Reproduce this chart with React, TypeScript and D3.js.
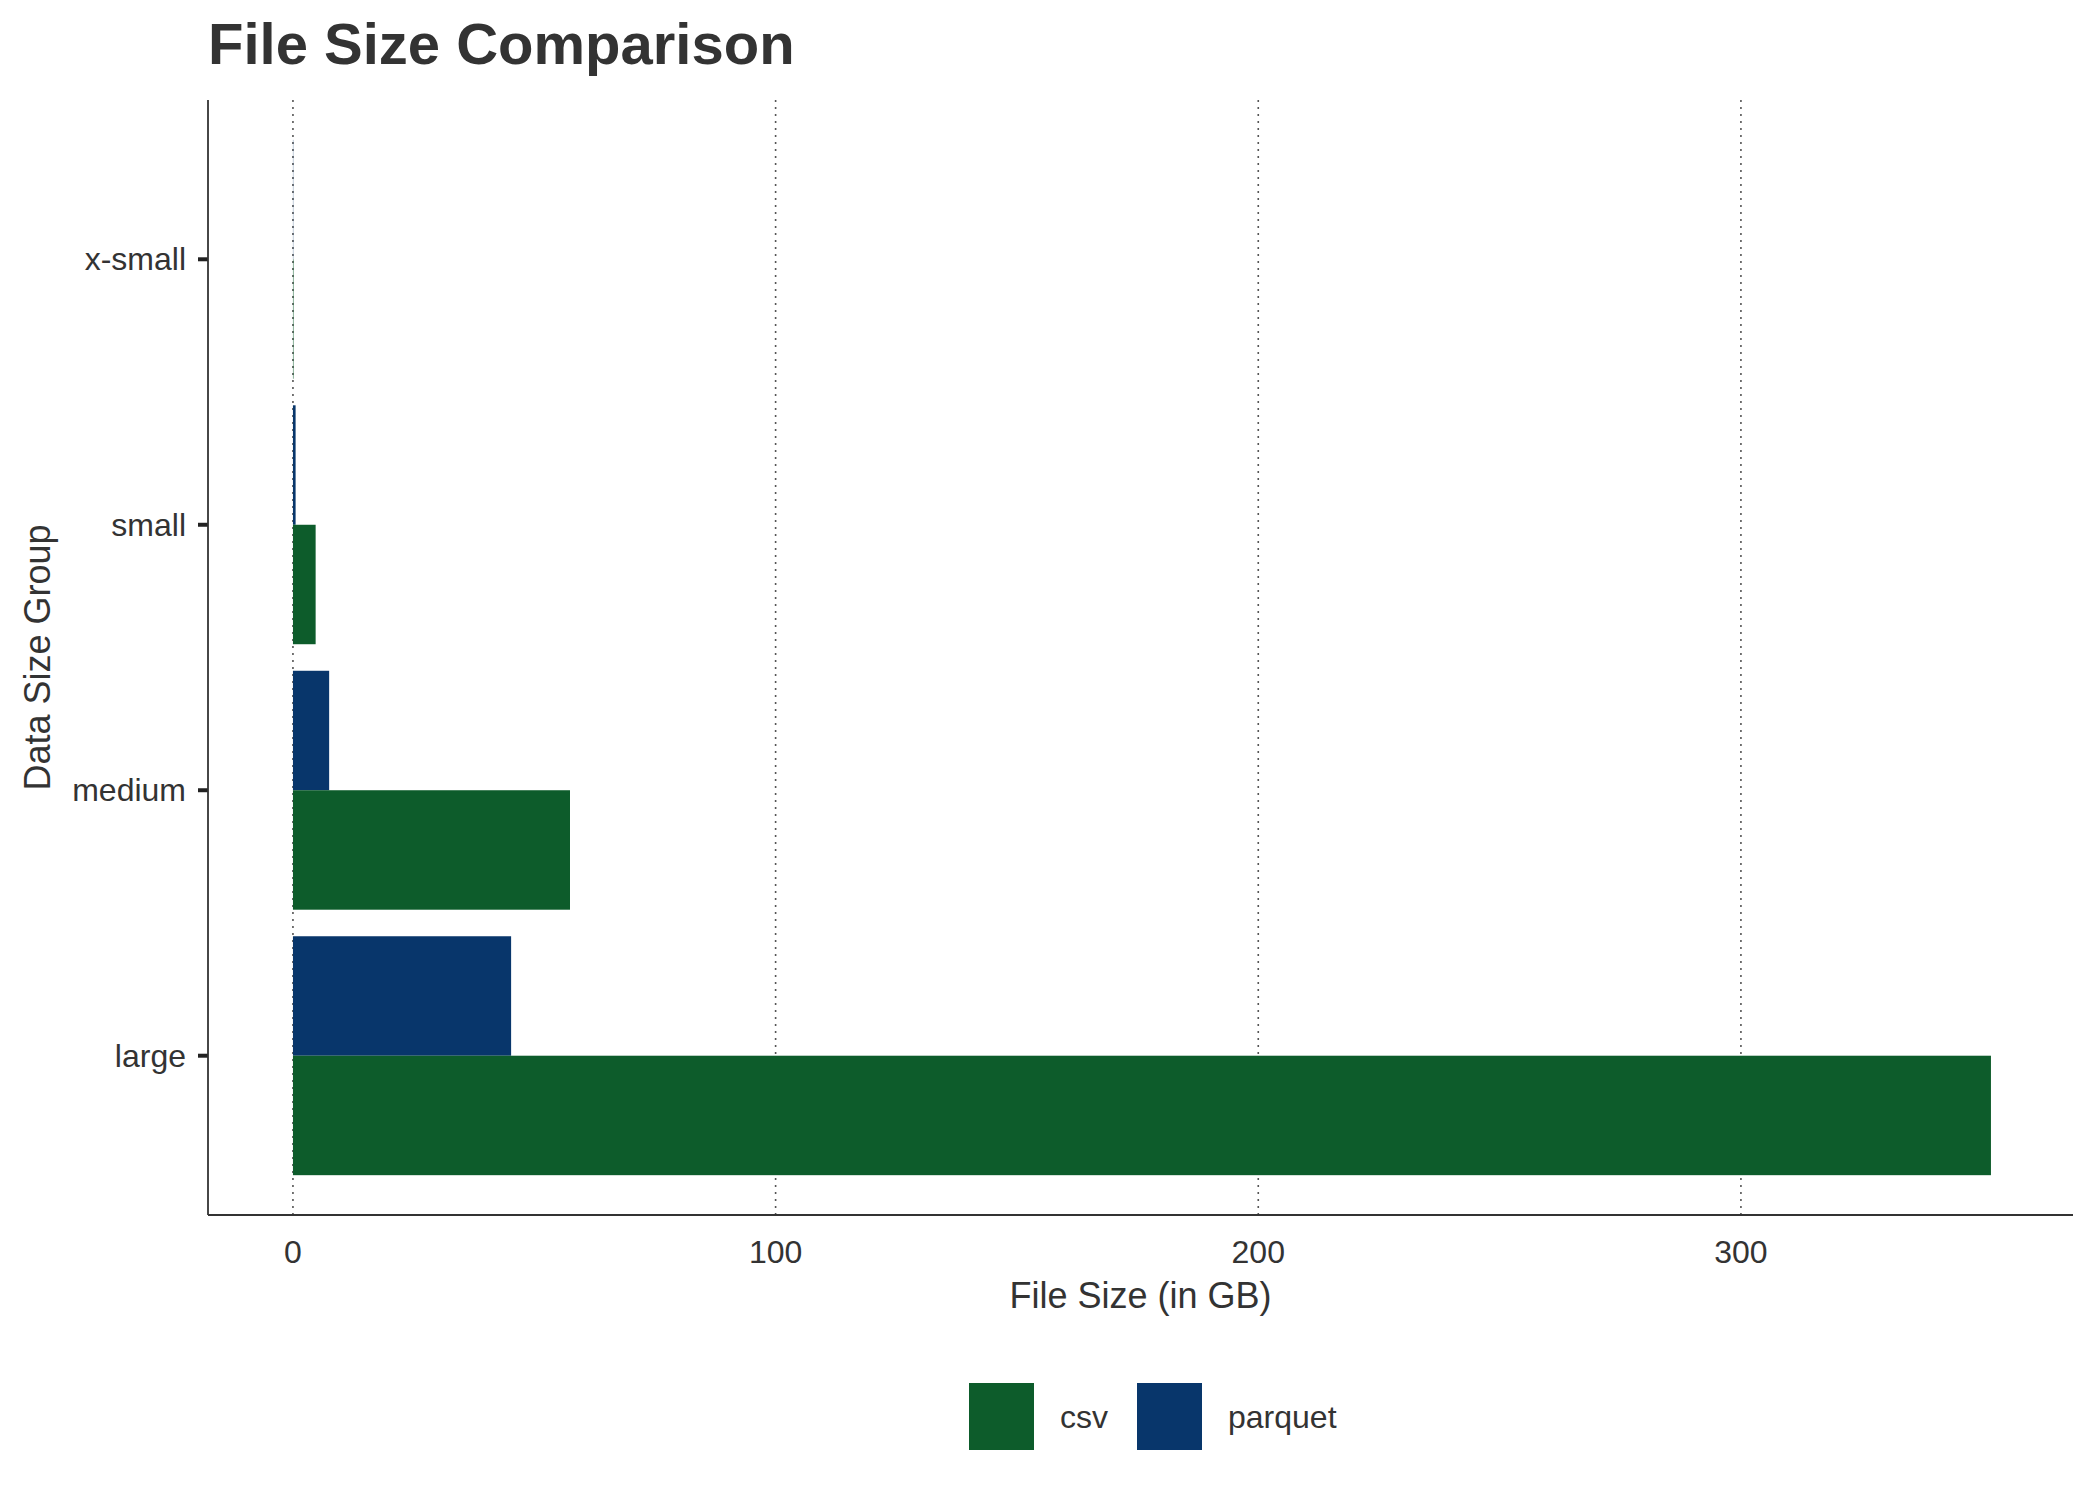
import React from "react";
import * as d3 from "d3";

const categories = ["x-small", "small", "medium", "large"];
const seriesNames = ["csv", "parquet"];
const csvValues = [0.1, 4.7, 57.4, 351.8];
const parquetValues = [0.05, 0.55, 7.5, 45.2];
const xTicks = [0, 100, 200, 300];
const colors: Record<string, string> = { csv: "#0d5c2b", parquet: "#08366b" };

export default function App() {
  const W = 2100, H = 1500;
  const left = 208, right = 2073, top = 100, bottom = 1215;
  const x = d3.scaleLinear().domain([-17.6, 368.8]).range([left, right]);
  const y = d3.scalePoint().domain(categories).range([top, bottom]).padding(0.6);
  const step = y.step();
  const bh = step * 0.45;
  const font = "Arial, 'Liberation Sans', Helvetica, sans-serif";
  const text = "#333333";
  return (
    <svg width={W} height={H} style={{ position: "absolute", left: 0, top: 0, background: "white" }} fontFamily={font}>
      <text x={208} y={64} fontSize={58} fontWeight="bold" fill={text}>File Size Comparison</text>
      {xTicks.map(t => (
        <line key={t} x1={x(t)} x2={x(t)} y1={top} y2={bottom} stroke="#555" strokeWidth={1.6} strokeDasharray="2,5" />
      ))}
      {categories.map((c, i) => {
        const cy = y(c)!;
        return (
          <g key={c}>
            <rect x={x(0)} width={x(parquetValues[i]) - x(0)} y={cy - bh} height={bh} fill={colors.parquet} />
            <rect x={x(0)} width={x(csvValues[i]) - x(0)} y={cy} height={bh} fill={colors.csv} />
            <line x1={left - 10} x2={left} y1={cy} y2={cy} stroke="#222" strokeWidth={4} />
            <text x={left - 22} y={cy} dy="0.35em" textAnchor="end" fontSize={32} fill={text}>{c}</text>
          </g>
        );
      })}
      <line x1={left} x2={left} y1={top} y2={bottom} stroke="#333" strokeWidth={1.8} />
      <line x1={left} x2={right} y1={bottom} y2={bottom} stroke="#333" strokeWidth={1.8} />
      {xTicks.map(t => (
        <text key={t} x={x(t)} y={bottom + 48} textAnchor="middle" fontSize={32} fill={text}>{t}</text>
      ))}
      <text x={(left + right) / 2} y={1308} textAnchor="middle" fontSize={36} fill={text}>File Size (in GB)</text>
      <text transform={`translate(37,${(top + bottom) / 2}) rotate(-90)`} textAnchor="middle" dy="0.35em" fontSize={36} fill={text}>Data Size Group</text>
      {seriesNames.map((s, i) => {
        const bx = i === 0 ? 969 : 1137;
        return (
          <g key={s}>
            <rect x={bx} y={1383} width={65} height={67} fill={colors[s]} />
            <text x={bx + 91} y={1417} dy="0.35em" fontSize={32} fill={text}>{s}</text>
          </g>
        );
      })}
    </svg>
  );
}
